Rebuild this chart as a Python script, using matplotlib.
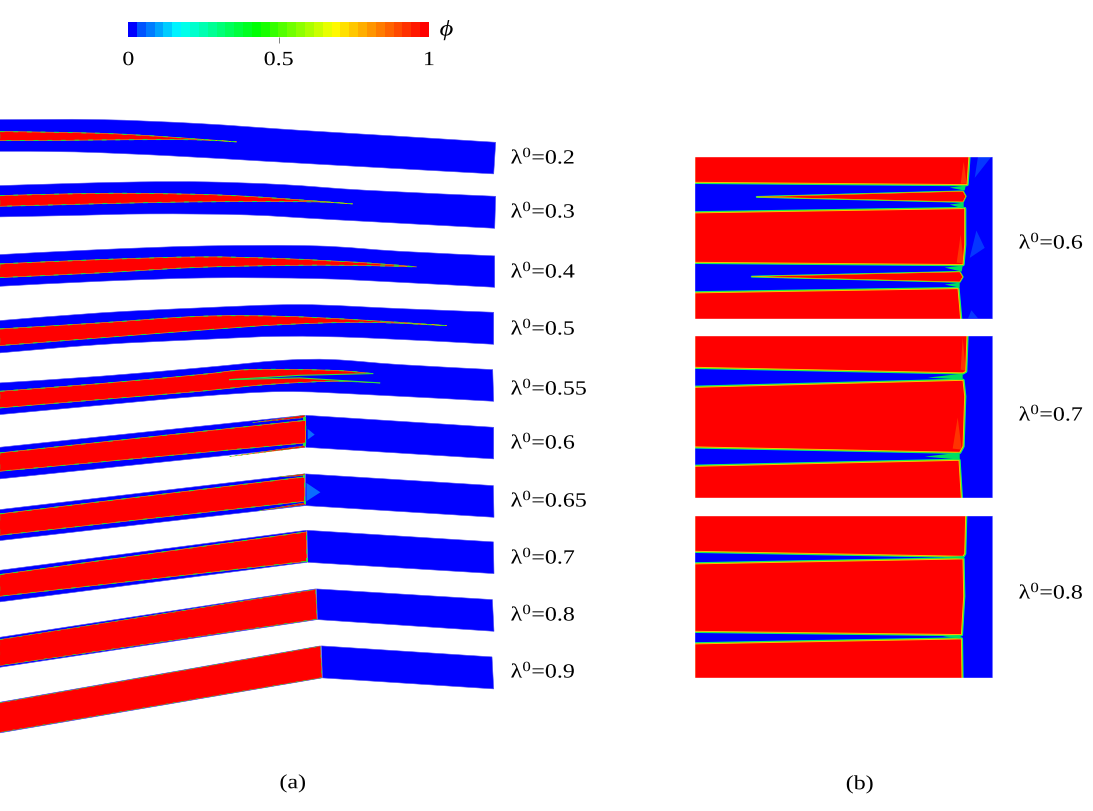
import numpy as np
import matplotlib
matplotlib.use("Agg")
import matplotlib.pyplot as plt
from matplotlib.path import Path
from matplotlib.patches import PathPatch
from matplotlib.colors import ListedColormap
from matplotlib.patheffects import AbstractPathEffect
from matplotlib.transforms import Affine2D

plt.rcParams['font.family'] = ['Liberation Serif', 'DejaVu Serif']
plt.rcParams['mathtext.fontset'] = 'custom'
plt.rcParams['mathtext.rm'] = 'Liberation Serif'
plt.rcParams['mathtext.it'] = 'Liberation Serif:italic'

BLUE = '#0000ff'
RED = '#ff0000'

# ---- panel (a): curved channels (upper wall, lower wall, liquid core upper/lower)
labels_a = ['0.2', '0.3', '0.4', '0.5', '0.55', '0.6', '0.65', '0.7', '0.8', '0.9']
label_y_a = [158, 212, 272, 329, 389, 443, 501, 558, 615, 672]

c02_top = [(0, 120), (100, 120), (200, 124), (300, 130.7), (400, 136.7), (496, 142.7)]
c02_bot = [(0, 151.7), (75, 152.3), (167, 156), (267, 161.7), (367, 167.3), (494, 174.3)]
c02_red_top = [(0, 132), (57, 132.7), (117, 134.3), (183, 138.3), (237, 142.3)]
c02_red_bot = [(0, 141), (67, 140.7), (150, 140), (200, 140.3), (237, 142.3)]

c03_top = [(0, 186), (67, 184), (140, 182.3), (207, 182.3), (283, 185), (367, 190.7), (496, 196.7)]
c03_bot = [(0, 217.3), (67, 216), (150, 214.3), (247, 215.3), (333, 220), (495, 228.7)]
c03_red_top = [(0, 196), (67, 194.3), (133, 193.7), (217, 195.3), (283, 199), (353, 204.3)]
c03_red_bot = [(0, 206.7), (67, 205), (150, 203), (233, 202), (317, 202.3), (353, 204.3)]

c04_top = [(0, 255), (100, 250), (207, 246.3), (317, 246.3), (400, 251.7), (495, 256.3)]
c04_bot = [(0, 286.7), (100, 281.7), (207, 278.3), (317, 279), (400, 282.7), (495, 287.7)]
c04_red_top = [(0, 264.3), (100, 260), (200, 257.3), (283, 259), (367, 263.3), (417, 267.3)]
c04_red_bot = [(0, 278), (100, 273.3), (200, 267.7), (300, 265.7), (367, 266), (417, 267.3)]

c05_top = [(0, 321), (100, 313.3), (200, 308.3), (300, 305), (400, 309), (494, 312.7)]
c05_bot = [(0, 353.3), (100, 345), (200, 340), (283, 336.7), (367, 338.3), (494, 344.7)]
c05_red_top = [(0, 329.3), (100, 323.3), (200, 316.7), (283, 316.7), (367, 320.7), (447, 326)]
c05_red_bot = [(0, 346), (100, 338.3), (200, 330.7), (283, 325), (367, 322.7), (447, 326)]

c055_top = [(0, 383.3), (100, 376.7), (200, 368.3), (283, 360.7), (333, 360), (400, 365), (493, 370)]
c055_bot = [(0, 415), (100, 405.7), (200, 396.7), (283, 392), (367, 395), (494, 401.7)]
c055_red_top = [(0, 391.7), (100, 384), (200, 375), (250, 370), (333, 370.7), (373, 374)]
c055_red_bot = [(0, 408.3), (100, 400), (200, 391.7), (267, 385), (333, 381.7), (380, 383.3)]
c055_slit = [(230, 380), (300, 375.7), (373, 374), (384, 378), (380, 383.3), (300, 378.3)]
c055_slit_rims = [[(230, 380), (300, 375.7), (373, 374)], [(230, 380), (300, 378.3), (380, 383.3)]]

# straight channels: upstream quad, downstream quad, red core, wall films
c06_up = [(0, 447.7), (305, 415.7), (305, 447.7), (0, 479.3)]
c06_dn = [(306, 415.7), (494, 427.7), (494, 459.3), (306, 447.7)]
c06_red = [(0, 453.3), (306, 420.7), (306, 443.3), (0, 471.7)]
c06_films = [[(253, 423), (305, 415.7), (305, 418)], [(230, 457), (305, 446), (305, 447.7)]]
c06_glow = [(308, 429.3), (315, 435), (308, 440)]

c065_up = [(0, 510), (305, 474.3), (305.7, 506), (0, 541)]
c065_dn = [(305.7, 474.3), (493.7, 486), (494.3, 517.7), (305.7, 506)]
c065_red = [(0, 514.3), (305, 477.3), (305, 501.7), (0, 535.7)]
c065_films = [[(280, 477.3), (305, 474.3), (305, 476)], [(260, 511), (305.7, 505), (305.7, 503)]]
c065_glow = [(306.7, 483.3), (320.7, 492.7), (306.7, 501.7)]

c07_up = [(0, 570.7), (306.7, 530.7), (307.3, 562.7), (0, 602.3)]
c07_dn = [(307.3, 530.7), (493.7, 542.3), (494.3, 574), (308, 562.7)]
c07_red = [(0, 575), (306.7, 532.3), (307.3, 561.7), (0, 596.7)]

c08_up = [(0, 637.7), (316, 589.3), (317.3, 620), (0, 667.7)]
c08_dn = [(316.7, 589.3), (492.7, 600), (494.3, 631.7), (317.7, 620)]
c08_red = [(0, 640), (316, 590), (317.3, 619.5), (0, 666)]

c09_up = [(0, 702.7), (320.7, 646.3), (322.3, 678.3), (0, 733.3)]
c09_dn = [(321.7, 646.3), (492.3, 657.3), (494, 689.3), (322.7, 678.3)]
c09_red = [(0, 703.3), (320.7, 646.6), (322.3, 678), (0, 732.7)]

a_outlet_marks = [
    [(303.5, 417), (306, 417), (306, 421), (303.5, 421)],
    [(303.5, 443), (306, 443), (306, 446.5), (303.5, 446.5)],
    [(303.5, 475), (305.5, 475), (305.5, 478), (303.5, 478)],
    [(304, 501), (306, 501), (306, 504), (304, 504)],
    [(306, 558), (308, 558), (308, 562), (306, 562)],
]

# ---- panel (b): blade passages
labels_b = ['0.6', '0.7', '0.8']
label_y_b = [243, 415, 593]
b_x = [694.7, 992.7]
b_y = [(156.4, 319), (335.4, 498.8), (515.4, 678.8)]

b06_red = [
    [(695, 156), (969.3, 156), (967.3, 185), (963.3, 185), (695, 182.7)],
    [(695, 213.3), (963.3, 209), (965, 209), (965, 245), (963.3, 265), (695, 262.7)],
    [(695, 293.3), (958.3, 289), (961, 320), (695, 320)],
]
b06_slivers = [
    [(757, 197.3), (963.3, 191.7), (966, 196.7), (963.3, 202.3)],
    [(752, 277), (960, 272.3), (963, 277.3), (960, 282.3)],
]
b07_red = [
    [(695, 335), (967.3, 335), (966, 371.7), (963.3, 373.3), (695, 367.7)],
    [(695, 387.7), (963.3, 380.7), (965, 396.7), (963.3, 446.7), (960, 452.7), (695, 447.3)],
    [(695, 466.7), (959.3, 460.7), (961.7, 500), (695, 500)],
]
b08_red = [
    [(695, 515), (966, 515), (965, 554), (963.3, 556.7), (695, 551.7)],
    [(695, 564.3), (963.3, 559.3), (964, 596.7), (961.7, 635), (695, 631.7)],
    [(695, 644.3), (961.7, 639.3), (962.3, 680), (695, 680)],
]
b_junctions = [
    [(950, 188), (966, 186), (965, 191)], [(950, 205), (964, 203), (964, 209)],
    [(945, 268), (963, 266), (962, 272)], [(945, 285), (960, 283), (960, 288)],
    [(928, 378), (963, 374), (963, 380)], [(925, 457), (960, 453), (960, 460)],
    [(943, 557.5), (964, 556.5), (964, 559)], [(943, 637), (961, 635.5), (961, 639)],
]
b_glows = [
    [(978.3, 157), (991.7, 157), (975, 178.3)],
    [(976.7, 231), (985, 248.3), (970, 258.3)],
    [(971.7, 310.7), (978.3, 318.7), (968.3, 318.7)],
]
b_orange = [
    [(964, 162), (967, 184), (961, 184)],
    [(961, 235), (964, 264), (957, 263)],
    [(963, 338), (966, 371), (961, 370)],
    [(958, 418), (962, 450), (953, 449)],
]

# ---- colour bar
cbar_ticks = [0, 0.5, 1]
cbar_tick_labels = ['0', '0.5', '1']
cbar_levels = np.linspace(0, 1, 34)
cbar_stop_v = [0.0, 0.012, 0.03, 0.16, 0.43, 0.69, 1.0]
cbar_stop_c = [(0, 0, 1), (0, 0, 1), (0, 0.33, 1), (0, 1, 1), (0, 1, 0), (1, 1, 0), (1, 0, 0)]


class StretchX(AbstractPathEffect):
    """Draw the glyph outlines of a text wider than the font's natural width."""

    def __init__(self, factor, anchor='left'):
        super().__init__()
        self.factor, self.anchor = factor, anchor

    def draw_path(self, renderer, gc, tpath, affine, rgbFace=None):
        box = tpath.get_extents(affine)
        x0 = box.x0 if self.anchor == 'left' else 0.5 * (box.x0 + box.x1)
        t = affine + Affine2D().translate(-x0, 0).scale(self.factor, 1).translate(x0, 0)
        renderer.draw_path(gc, tpath, t, rgbFace)


def smooth_segments(pts, first):
    """Catmull-Rom smoothing of a polyline, returned as matplotlib CURVE4 codes."""
    p = np.asarray(pts, float)
    verts, codes = [tuple(p[0])], [Path.MOVETO if first else Path.LINETO]
    for i in range(len(p) - 1):
        a = p[max(i - 1, 0)]
        b, c = p[i], p[i + 1]
        d = p[min(i + 2, len(p) - 1)]
        verts += [tuple(b + (c - a) / 6), tuple(c - (d - b) / 6), tuple(c)]
        codes += [Path.CURVE4] * 3
    return verts, codes


def curved(top, bot):
    v1, c1 = smooth_segments(top, True)
    v2, c2 = smooth_segments(bot[::-1], False)
    return Path(v1 + v2 + [v1[0]], c1 + c2 + [Path.CLOSEPOLY])


def poly(pts):
    return Path(list(pts) + [pts[0]], closed=True)


def core(ax, path, widths=(0.7, 0.45)):
    ax.add_patch(PathPatch(path, fc=RED, ec='#f0a000', lw=widths[1], zorder=3))
    ax.add_patch(PathPatch(path, fc='none', ec='#20e040', lw=widths[0], ls=(0, (5, 9)), zorder=3.1))


def rimmed(ax, pts, w):
    for lw, col, z in zip(w, ['#00e8a0', '#30f020', '#ffc000'], [3, 3.1, 3.2]):
        ax.add_patch(PathPatch(poly(pts), fc=RED, ec=col, lw=lw, zorder=z, joinstyle='round'))


fig = plt.figure(figsize=(10.93, 8.12), dpi=100)
ax = fig.add_axes([0, 0, 1, 1])
ax.set_xlim(0.3, 1093.3)
ax.set_ylim(811.4, -0.6)
ax.axis('off')

# curved cases
for top, bot, rt, rb in [
    (c02_top, c02_bot, c02_red_top, c02_red_bot),
    (c03_top, c03_bot, c03_red_top, c03_red_bot),
    (c04_top, c04_bot, c04_red_top, c04_red_bot),
    (c05_top, c05_bot, c05_red_top, c05_red_bot),
    (c055_top, c055_bot, c055_red_top, c055_red_bot),
]:
    ax.add_patch(PathPatch(curved(top, bot), fc=BLUE, ec='#5050f0', lw=0.4, zorder=2))
    core(ax, curved(rt, rb))
ax.add_patch(PathPatch(poly(c055_slit), fc=BLUE, ec='none', zorder=3.2))
for rim in c055_slit_rims:
    ax.plot(*zip(*rim), color='#30e040', lw=0.8, zorder=3.3)

# straight cases
for up, dn, red, w in [
    (c06_up, c06_dn, c06_red, (0.7, 0.45)), (c065_up, c065_dn, c065_red, (0.7, 0.45)),
    (c07_up, c07_dn, c07_red, (0.7, 0.45)), (c08_up, c08_dn, c08_red, (0.5, 0.3)),
    (c09_up, c09_dn, c09_red, (0.4, 0.25)),
]:
    ax.add_patch(PathPatch(poly(up), fc=BLUE, ec='#5050f0', lw=0.4, zorder=2))
    ax.add_patch(PathPatch(poly(dn), fc=BLUE, ec='#5050f0', lw=0.4, zorder=2))
    core(ax, poly(red), w)
for film in c06_films + c065_films:
    core(ax, poly(film), (0.3, 0.2))
for m in a_outlet_marks:
    ax.fill(*zip(*m), color='#30e040', lw=0, zorder=3.5)
ax.fill(*zip(*c06_glow), color='#0a6cff', lw=0, zorder=3)
ax.fill(*zip(*c065_glow), color='#0a6cff', lw=0, zorder=3)

# panel (b)
for (y0, y1), reds in zip(b_y, [b06_red, b07_red, b08_red]):
    ax.fill([b_x[0], b_x[1], b_x[1], b_x[0]], [y0, y0, y1, y1], fc=BLUE, ec='#7070ff', lw=0.5, zorder=2)
    for r in reds:
        rimmed(ax, r, (2.4, 1.6, 0.7))
    ax.fill([b_x[0], b_x[0] - 3, b_x[0] - 3, b_x[0]], [y0 - 2, y0 - 2, y1 + 2, y1 + 2], color='white', zorder=4)
    ax.fill([b_x[0] - 3, b_x[1], b_x[1], b_x[0] - 3], [y0 - 3, y0 - 3, y0, y0], color='white', zorder=4)
    ax.fill([b_x[0] - 3, b_x[1], b_x[1], b_x[0] - 3], [y1, y1, y1 + 3, y1 + 3], color='white', zorder=4)
for s in b06_slivers:
    rimmed(ax, s, (1.3, 0.9, 0.35))
for j in b_junctions:
    ax.fill(*zip(*j), color='#00e060', lw=0, zorder=3.5)
for g in b_glows:
    ax.fill(*zip(*g), color='#0a5cff', alpha=0.6, lw=0, zorder=2.5)
for o in b_orange:
    ax.fill(*zip(*o), color='#ff8000', alpha=0.4, lw=0, zorder=3.4)

# labels
FS = 14.5
SX = 1.19
stretch_l = [StretchX(SX, 'left')]
stretch_c = [StretchX(SX, 'center')]
for lab, y in zip(labels_a, label_y_a):
    ax.text(511, y + 0.4, r'$\mathrm{\lambda}^{0}$=' + lab, fontsize=FS, va='center', ha='left', path_effects=stretch_l)
for lab, y in zip(labels_b, label_y_b):
    ax.text(1019, y + 0.4, r'$\mathrm{\lambda}^{0}$=' + lab, fontsize=FS, va='center', ha='left', path_effects=stretch_l)
ax.text(293, 784, '(a)', fontsize=FS, ha='center', va='center', path_effects=stretch_c)
ax.text(860, 785, '(b)', fontsize=FS, ha='center', va='center', path_effects=stretch_c)

# colour bar
W, H = 1093.0, 812.0
cax = fig.add_axes([128.3 / W, 1 - 38.2 / H, (429 - 128.3) / W, 15.4 / H])
rgb = np.array([np.interp(cbar_levels, cbar_stop_v, [c[k] for c in cbar_stop_c]) for k in range(3)]).T
cax.imshow(cbar_levels[None, :], aspect='auto', extent=[0, 1, 0, 1], cmap=ListedColormap(rgb), vmin=0, vmax=1)
cax.set_yticks([])
cax.set_xticks(cbar_ticks)
cax.set_xticklabels(cbar_tick_labels, fontsize=FS)
cax.tick_params(axis='x', length=4, width=0.6, color='#707070', pad=6)
for i in (0, 2):
    cax.xaxis.get_major_ticks()[i].tick1line.set_visible(False)
for t in cax.get_xticklabels():
    t.set_path_effects(stretch_c)
for s in cax.spines.values():
    s.set_visible(False)
ax.text(447.5, 31, r'$\phi$', fontsize=16, ha='center', va='center', path_effects=stretch_c)

fig.savefig('out.png', dpi=100)
